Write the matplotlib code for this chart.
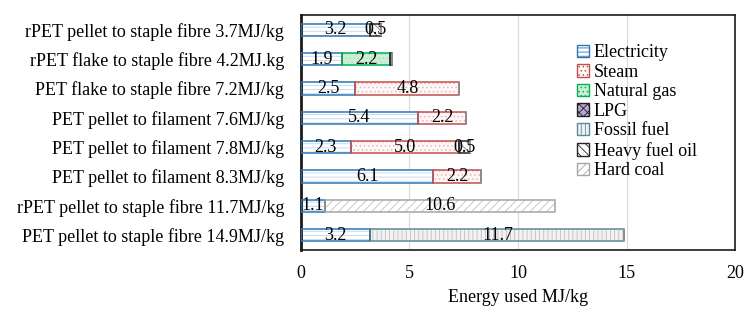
import matplotlib
matplotlib.use("Agg")
import matplotlib.pyplot as plt
import matplotlib.patches as mpatches
import numpy as np

categories = [
    "rPET pellet to staple fibre 3.7MJ/kg",
    "rPET flake to staple fibre 4.2MJ.kg",
    "PET flake to staple fibre 7.2MJ/kg",
    "PET pellet to filament 7.6MJ/kg",
    "PET pellet to filament 7.8MJ/kg",
    "PET pellet to filament 8.3MJ/kg",
    "rPET pellet to staple fibre 11.7MJ/kg",
    "PET pellet to staple fibre 14.9MJ/kg",
]
electricity = [3.2, 1.9, 2.5, 5.4, 2.3, 6.1, 1.1, 3.2]
steam = [0, 0, 4.8, 2.2, 5.0, 2.2, 0, 0]
natural_gas = [0, 2.2, 0, 0, 0, 0, 0, 0]
lpg = [0, 0.1, 0, 0, 0, 0, 0, 0]
fossil_fuel = [0, 0, 0, 0, 0, 0, 0, 11.7]
heavy_fuel_oil = [0.5, 0, 0, 0, 0.5, 0, 0, 0]
hard_coal = [0, 0, 0, 0, 0, 0, 10.6, 0]
xticks = [0, 5, 10, 15, 20]

series = [
    ("Electricity", electricity, "white", "#BDD7EE", "#2E75B6", "----", True),
    ("Steam", steam, "#FFF7F7", "#E6B8B7", "#C0504D", "....", True),
    ("Natural gas", natural_gas, "#CDEFD5", "#A9E2B5", "#00B050", "....", True),
    ("LPG", lpg, "#B4A7D6", "#3F3151", "#1F1F1F", "xxxx", False),
    ("Fossil fuel", fossil_fuel, "#F2F2F2", "#BFBFBF", "#5B8A99", "||||", True),
    ("Heavy fuel oil", heavy_fuel_oil, "white", "#7F7F7F", "#262626", "\\\\\\\\", True),
    ("Hard coal", hard_coal, "white", "#BFBFBF", "#A6A6A6", "////", True),
]

FS = 13
plt.rcParams["font.family"] = ["Liberation Serif", "DejaVu Serif"]
plt.rcParams["hatch.linewidth"] = 0.6

fig = plt.figure(figsize=(7.54, 3.14), dpi=100)
ax = fig.add_axes([0.399, 0.204, 0.576, 0.748])

y = np.arange(len(categories))
left = np.zeros(len(categories))
h = 0.42
handles = []
for name, vals, fc, hc, ec, hatch, lab in series:
    vals = np.array(vals, dtype=float)
    ax.barh(y, vals, left=left, height=h, color=fc, edgecolor=hc, hatch=hatch,
            linewidth=0, zorder=2)
    ax.barh(y, vals, left=left, height=h, fill=False, edgecolor=ec,
            linewidth=1.1, zorder=3)
    if lab:
        for yi, (l, v) in enumerate(zip(left, vals)):
            if v > 0:
                ax.text(l + v / 2, yi, f"{v:.1f}", ha="center", va="center",
                        fontsize=FS, color="black", zorder=4)
    handles.append(mpatches.Patch(facecolor=fc, edgecolor=ec, hatch=hatch,
                                  linewidth=1.0, label=name))
    left = left + vals

ax.set_ylim(len(categories) - 0.5, -0.5)
ax.set_xlim(0, 20)
ax.set_xticks(xticks)
ax.set_yticks(y)
ax.set_yticklabels(categories, fontsize=FS)
ax.tick_params(axis="both", length=0, labelsize=FS)
ax.tick_params(axis="x", pad=11)
ax.tick_params(axis="y", pad=12)
ax.grid(axis="x", color="#D9D9D9", linewidth=0.8, zorder=0)
ax.set_axisbelow(True)
for s in ax.spines.values():
    s.set_color("#1a1a1a")
    s.set_linewidth(1.2)
ax.spines["left"].set_linewidth(2.0)
ax.set_xlabel("Energy used MJ/kg", fontsize=FS, labelpad=5)

leg = fig.legend(handles=handles, loc="upper left", bbox_to_anchor=(0.753, 0.888),
                 frameon=False, fontsize=FS, handlelength=0.7, handleheight=0.7,
                 handletextpad=0.25, labelspacing=0.14, borderpad=0)

fig.savefig("out.png", dpi=100)
